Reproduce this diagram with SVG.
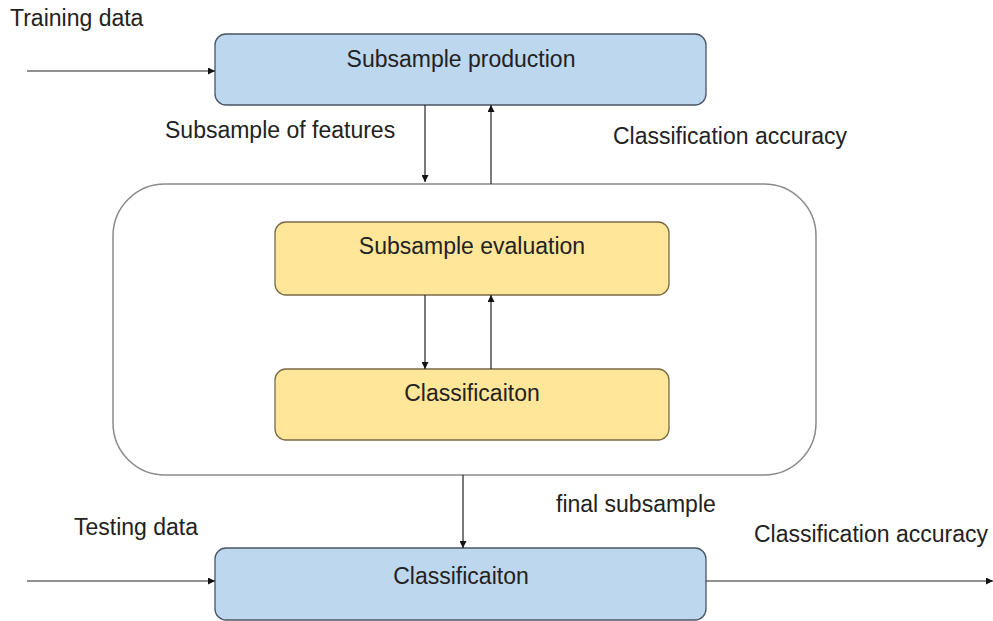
<svg xmlns="http://www.w3.org/2000/svg" width="993" height="621" viewBox="0 0 993 621">
  <defs>
    <marker id="arrow" viewBox="0 0 10 10" refX="10" refY="5" markerWidth="7" markerHeight="7" markerUnits="userSpaceOnUse" orient="auto">
      <path d="M0,0 L10,5 L0,10 z" fill="#111"/>
    </marker>
    <style>
      text { font-family: "Liberation Sans", Arial, sans-serif; font-size: 23px; fill: #222; }
      .mid { text-anchor: middle; }
      .blue { fill: #bdd7ee; stroke: #4a5563; stroke-width: 1.3; }
      .yellow { fill: #ffe699; stroke: #7a6a45; stroke-width: 1.3; }
      .frame { fill: #ffffff; stroke: #8a8a8a; stroke-width: 1.5; }
      .link { stroke: #222; stroke-width: 1.2; fill: none; marker-end: url(#arrow); }
    </style>
  </defs>
  <rect width="993" height="621" fill="#ffffff"/>

  <!-- outer frame around the evaluation loop -->
  <g id="loop">
    <rect class="frame" x="113" y="184" width="703" height="291" rx="52"/>
  </g>

  <g id="production">
    <rect class="blue" x="215" y="34" width="491" height="71" rx="11"/>
    <text class="mid" x="461" y="67">Subsample production</text>
  </g>

  <g id="evaluation">
    <rect class="yellow" x="275" y="222" width="394" height="73" rx="11"/>
    <text class="mid" x="472" y="254">Subsample evaluation</text>
  </g>

  <g id="inner-classification">
    <rect class="yellow" x="275" y="369" width="394" height="71" rx="11"/>
    <text class="mid" x="472" y="401">Classificaiton</text>
  </g>

  <g id="final-classification">
    <rect class="blue" x="215" y="548" width="491" height="72" rx="11"/>
    <text class="mid" x="461" y="584">Classificaiton</text>
  </g>

  <g id="labels">
    <text x="10" y="26">Training data</text>
    <text x="165" y="138">Subsample of features</text>
    <text x="613" y="144">Classification accuracy</text>
    <text x="556" y="512">final subsample</text>
    <text x="74" y="535">Testing data</text>
    <text x="754" y="542">Classification accuracy</text>
  </g>

  <g id="connectors">
    <line class="link" x1="27" y1="71" x2="215" y2="71"/>
    <line class="link" x1="425" y1="105" x2="425" y2="182"/>
    <line class="link" x1="491" y1="184" x2="491" y2="105"/>
    <line class="link" x1="425" y1="295" x2="425" y2="369"/>
    <line class="link" x1="491" y1="369" x2="491" y2="295"/>
    <line class="link" x1="463" y1="475" x2="463" y2="548"/>
    <line class="link" x1="27" y1="581" x2="215" y2="581"/>
    <line class="link" x1="706" y1="581" x2="993" y2="581"/>
  </g>
</svg>
